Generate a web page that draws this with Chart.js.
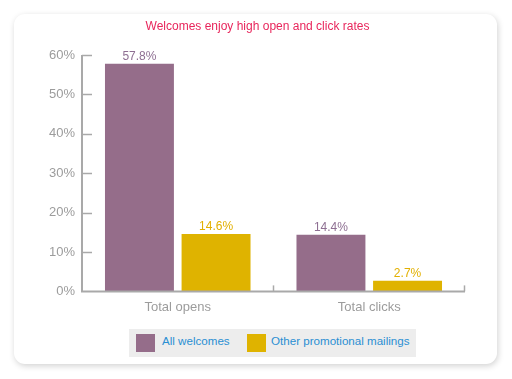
<!DOCTYPE html>
<html>
<head>
<meta charset="utf-8">
<script src="https://cdn.jsdelivr.net/npm/chart.js@4"></script>
<style>
  html, body { margin: 0; padding: 0; background: #fff; }
  body { width: 512px; height: 379px; position: relative; overflow: hidden; font-family: "Liberation Sans", Arial, sans-serif; }
  .card { position: absolute; left: 14px; top: 14px; width: 483px; height: 350px; background: #fff; border-radius: 11px;
          box-shadow: 1px 2px 6px rgba(0,0,0,0.18); }
  #grafico { position: absolute; left: 0; top: 0; }
  .leyenda { position: absolute; left: 115px; top: 315px; width: 287px; height: 28px; background: #ededed; }
  .item { position: absolute; top: 5px; font-size: 11.6px; color: #2a8fd3; line-height: 18px; }
  .item i { position: absolute; left: 0; top: 0; width: 19px; height: 18px; }
  .item span { position: absolute; white-space: nowrap; top: -2px; }
</style>
</head>
<body>
<div class="card">
  <canvas id="grafico" width="483" height="310"></canvas>
  <div class="leyenda" id="leyenda"></div>
</div>
<script>
const titulo = 'Welcomes enjoy high open and click rates';
const categorias = ['Total opens', 'Total clicks'];
const series = ['All welcomes', 'Other promotional mailings'];
const bienvenidas = [57.8, 14.4];
const otrosEnvios = [14.6, 2.7];
const ticksY = [0, 10, 20, 30, 40, 50, 60];
const colores = ['#956d8a', '#dfb300'];
const coloresEtiqueta = ['#8e6f92', '#e2b000'];

// leyenda en html
const leyenda = document.getElementById('leyenda');
const posiciones = [[7, 33], [118, 142]];
leyenda.innerHTML = series.map((s, i) => `
  <div class="item" style="left:${posiciones[i][0]}px"><i style="background:${colores[i]}"></i><span style="left:${posiciones[i][1] - posiciones[i][0]}px">${s}</span></div>
`).join('');

const ejes = {
  id: 'ejes',
  afterDatasetsDraw(chart) {
    const { ctx, chartArea: a, scales: { x, y } } = chart;
    ctx.save();
    // titulo centrado en toda la tarjeta
    ctx.font = '12px "Liberation Sans", Arial, sans-serif';
    ctx.fillStyle = '#e8265c';
    ctx.textAlign = 'center';
    ctx.textBaseline = 'middle';
    ctx.fillText(titulo, chart.width / 2 + 2, 13);

    ctx.strokeStyle = '#a9a9a9';
    ctx.lineWidth = 2;
    ctx.beginPath();
    ctx.moveTo(a.left, a.top);
    ctx.lineTo(a.left, a.bottom);
    ctx.lineTo(a.right, a.bottom);
    ctx.stroke();
    ctx.lineWidth = 1.5;
    ticksY.forEach(t => {
      const py = Math.round(y.getPixelForValue(t)) + 0.5;
      if (t === 0) return;
      ctx.beginPath();
      ctx.moveTo(a.left, py);
      ctx.lineTo(a.left + 10, py);
      ctx.stroke();
    });
    for (let i = 1; i <= categorias.length; i++) {
      const px = Math.round((x.getPixelForValue(i - 1) + x.getPixelForValue(i)) / 2) - 0.5;
      const pxe = i === categorias.length ? a.right - 0.5 : px;
      ctx.beginPath();
      ctx.moveTo(pxe, a.bottom);
      ctx.lineTo(pxe, a.bottom - 6);
      ctx.stroke();
    }
    // etiquetas de valores
    ctx.textBaseline = 'bottom';
    chart.data.datasets.forEach((ds, i) => {
      chart.getDatasetMeta(i).data.forEach((bar, j) => {
        ctx.fillStyle = coloresEtiqueta[i];
        ctx.fillText(ds.data[j].toFixed(1) + '%', bar.x, bar.y - 1);
      });
    });
    ctx.restore();
  }
};

new Chart(document.getElementById('grafico'), {
  type: 'bar',
  data: {
    labels: categorias,
    datasets: [
      { label: series[0], data: bienvenidas, backgroundColor: colores[0] },
      { label: series[1], data: otrosEnvios, backgroundColor: colores[1] }
    ]
  },
  options: {
    responsive: false,
    animation: false,
    categoryPercentage: 0.8,
    barPercentage: 0.9,
    layout: { padding: { left: 0, right: 32, top: 41, bottom: 1 } },
    plugins: {
      legend: { display: false },
      tooltip: { enabled: false },
      title: { display: false }
    },
    scales: {
      x: {
        grid: { display: false, drawTicks: false },
        border: { display: false },
        ticks: { color: '#9c9c9c', padding: 8, font: { family: '"Liberation Sans", Arial, sans-serif', size: 13 } }
      },
      y: {
        min: 0, max: 60,
        afterFit(scale) { scale.width = 68; },
        afterBuildTicks(scale) { scale.ticks = ticksY.map(v => ({ value: v })); },
        grid: { display: false, drawTicks: false },
        border: { display: false },
        ticks: { color: '#9c9c9c', padding: 7, font: { family: '"Liberation Sans", Arial, sans-serif', size: 13 },
                 callback: v => v + '%' }
      }
    }
  },
  plugins: [ejes]
});
</script>
</body>
</html>
